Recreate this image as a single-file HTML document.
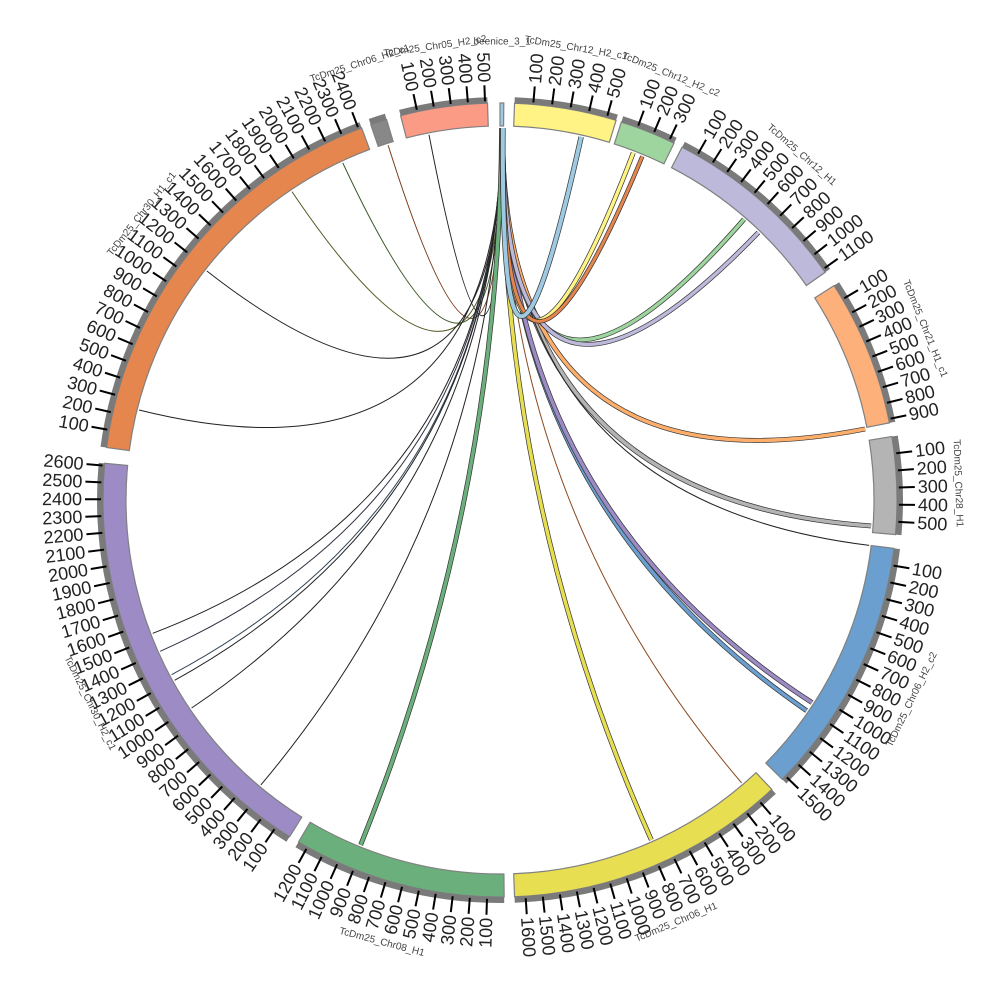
<!DOCTYPE html>
<html><head><meta charset="utf-8"><style>
html,body{margin:0;padding:0;background:#fff;}
svg{display:block;}
text{font-family:"Liberation Sans","DejaVu Sans",sans-serif;}
</style></head><body>
<svg id="s" width="1000" height="1000" viewBox="0 0 1000 1000" xmlns="http://www.w3.org/2000/svg"></svg>
<script>
var S=document.getElementById('s'),NS='http://www.w3.org/2000/svg';
var cx=500,cy=500,R0=374,R1=397,RG=403,RT=415,RL=418,RN=458,RLink=372;
function el(t,a,txt){var e=document.createElementNS(NS,t);for(var k in a)e.setAttribute(k,a[k]);if(txt!=null)e.textContent=txt;S.appendChild(e);return e;}
function P(a,r){var t=(a-90)*Math.PI/180;return [cx+r*Math.cos(t),cy+r*Math.sin(t)];}
function arcPath(a0,a1,r0,r1){var p=P(a0,r1),q=P(a1,r1),u=P(a1,r0),v=P(a0,r0);var lg=(a1-a0)>180?1:0;
return 'M'+p[0]+','+p[1]+' A'+r1+','+r1+' 0 '+lg+' 1 '+q[0]+','+q[1]+' L'+u[0]+','+u[1]+' A'+r0+','+r0+' 0 '+lg+' 0 '+v[0]+','+v[1]+'Z';}
var segs=[
['beenice_3_1',0.0,0.55,'#9ecae1',0],
['TcDm25_Chr12_H2_c1',2.1,17.0,'#fef384',37],
['TcDm25_Chr12_H2_c2',17.8,26.0,'#9ed59e',40.5],
['TcDm25_Chr12_H1',27.3,55.0,'#bcb9da',40.5],
['TcDm25_Chr21_H1_c1',57.3,78.8,'#fdb07a',43],
['TcDm25_Chr28_H1',80.8,95.0,'#b4b4b4',40.5],
['TcDm25_Chr06_H2_c2',97.0,134.7,'#6a9fcf',40.5],
['TcDm25_Chr06_H1',136.8,177.9,'#e8de52',40.5],
['TcDm25_Chr08_H1',179.4,210.5,'#6bb07c',40.5],
['TcDm25_Chr30_H2_c1',212.0,275.3,'#9c8bc4',41.3],
['TcDm25_Chr30_H1_c1',277.6,339.6,'#e6864f',39],
['TcDm25_Chr06_H2_c1',341.0,343.4,'#888888',40.5],
['TcDm25_Chr05_H2_c2',345.5,358.2,'#fb9a85',40.5]];
var links=[
[0.3,349,'#222',1,0],[0.3,342.5,'#7a3b1c',1,0],[0.3,335,'#3a5a2a',1,0],[0.3,326,'#555520',1,0],
[0.3,308,'#222',1,0],[0.3,284,'#222',1,0],
[0.2,249,'#222',1,0],[0.2,246,'#334',1,0],[0.2,242,'#345',1,0],[0.2,241,'#222',1,0],[0.2,236,'#222',1,0],[0.2,220,'#222',1,0],
[0.25,202,'#6bb07c',3.5,1],[0.3,156,'#e8de52',3.5,1],[0.35,139.5,'#8a4a20',1,0],
[0.4,124.5,'#6a9fcf',3.5,1],[0.4,123,'#9c8bc4',3.5,1],
[0.35,94,'#b4b4b4',3.5,1],[0.35,97,'#222',1,0],
[0.4,79,'#fdae6b',3.5,1],[0.45,41,'#9ed59e',3.5,1],[0.45,44,'#bcb9da',3.5,1],
[0.45,21,'#fef384',3.5,1],[0.45,22.5,'#e6864f',3,1],[0.45,12.6,'#9ecae1',4,1]];
links.forEach(function(l){var p=P(l[0],RLink),q=P(l[1],RLink);var d='M'+p[0]+','+p[1]+' Q'+cx+','+cy+' '+q[0]+','+q[1];
if(l[4]){el('path',{d:d,fill:'none',stroke:'#333','stroke-width':l[3]+1.4});el('path',{d:d,fill:'none',stroke:l[2],'stroke-width':l[3]});}
else el('path',{d:d,fill:'none',stroke:l[2],'stroke-width':l[3]});});
segs.forEach(function(s){
el('path',{d:arcPath(s[1],s[2],R0,R1),fill:s[3],stroke:'#808080','stroke-width':1.2});
if(s[4]){
var UPD=s[4];
el('path',{d:arcPath(s[1],s[2],R1,RG),fill:'#7a7a7a',stroke:'none'});
var len=(s[2]-s[1])*UPD;
for(var v=100;v<len;v+=100){var a=s[1]+v/UPD;var p=P(a,R1+2),q=P(a,RT);
el('line',{x1:p[0],y1:p[1],x2:q[0],y2:q[1],stroke:'#000','stroke-width':2});
var L=P(a,RL),rot,anc;if(a<180){rot=a-90;anc='start';}else{rot=a+90;anc='end';}
el('text',{x:L[0],y:L[1],'font-size':18,'text-anchor':anc,'dominant-baseline':'central',fill:'#222',transform:'rotate('+rot+' '+L[0]+' '+L[1]+')'},String(v));}
}
var m=(s[1]+s[2])/2,N=P(m,RN),r2=(m>90&&m<270)?m-180:m;
el('text',{x:N[0],y:N[1],'font-size':10,'text-anchor':'middle','dominant-baseline':'central',fill:'#444',transform:'rotate('+r2+' '+N[0]+' '+N[1]+')'},s[0]);
});
</script>
</body></html>
